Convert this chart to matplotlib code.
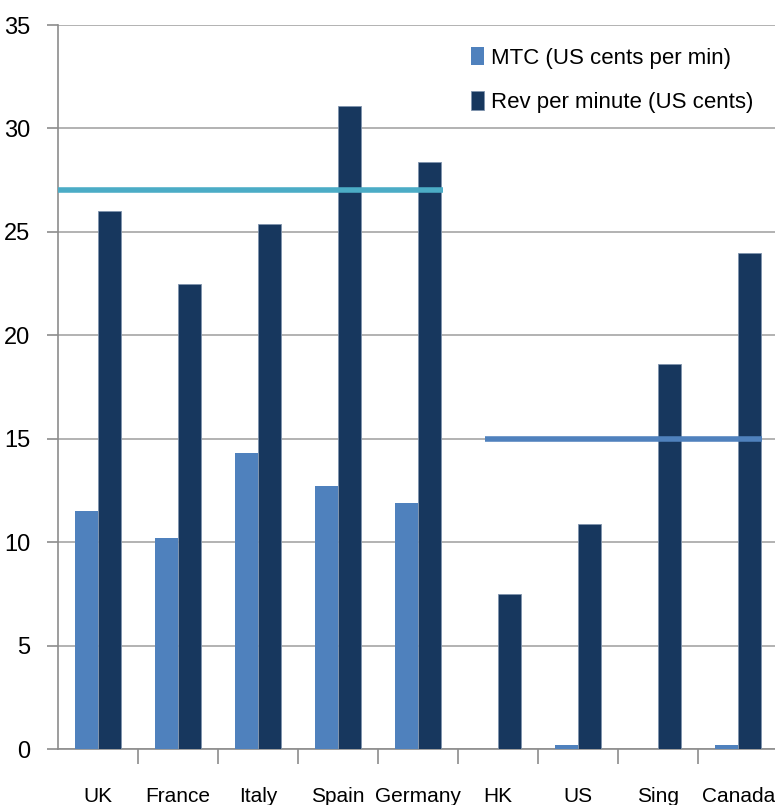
import matplotlib
matplotlib.use("Agg")
import matplotlib.pyplot as plt
import numpy as np

# chart data
countries = ["UK", "France", "Italy", "Spain", "Germany", "HK", "US", "Sing", "Canada"]
mtc = [11.5, 10.2, 14.3, 12.7, 11.9, -0.1, 0.2, 0.0, 0.2]
rev = [26.0, 22.5, 25.4, 31.1, 28.4, 7.5, 10.9, 18.6, 24.0]
europe_avg = 27.0
other_avg = 15.0

plt.rcParams['font.family'] = ['Liberation Sans', 'DejaVu Sans']

fig = plt.figure(figsize=(7.75, 8.05), dpi=100)
ax = fig.add_axes([58/775, 1-749/805, 1-58/775, (749-25)/805])

x = np.arange(len(countries))
w = 0.29
ax.bar(x - w/2, mtc, w, color='#4F81BD', label='MTC (US cents per min)', zorder=3)
ax.bar(x + w/2, rev, w, color='#17375E', edgecolor='#7F93AD', linewidth=0.6,
       label='Rev per minute (US cents)', zorder=3)

# average lines
ax.plot([-0.5, 4.31], [europe_avg, europe_avg], color='#4BACC6', lw=4, zorder=4,
        solid_capstyle='butt')
ax.plot([4.83, 8.3], [other_avg, other_avg], color='#4F81BD', lw=4, zorder=4,
        solid_capstyle='butt')

ax.set_ylim(0, 35)
ax.set_xlim(-0.5, 8.46)
ax.set_yticks(range(0, 36, 5))
ax.yaxis.grid(True, color='#A6A6A6', lw=1.2, zorder=0)
ax.set_axisbelow(True)

ax.set_xticks(x)
ax.set_xticklabels(countries)
ax.set_xticks(np.arange(0.5, 8.5, 1), minor=True)
ax.tick_params(axis='x', which='major', length=0, pad=27, labelsize=15)
ax.tick_params(axis='x', which='minor', length=11, color='#8C8C8C', width=1.2)
ax.tick_params(axis='y', length=8, color='#8C8C8C', width=1.2, pad=12, labelsize=17)

for s in ['top', 'right']:
    ax.spines[s].set_visible(False)
for s in ['left', 'bottom']:
    ax.spines[s].set_color('#8C8C8C')
    ax.spines[s].set_linewidth(1.2)

leg = ax.legend(loc='upper right', bbox_to_anchor=(0.985, 0.985), fontsize=16,
                frameon=True, handlelength=0.6, handleheight=0.9, handletextpad=0.3,
                labelspacing=1.0, borderpad=0.3, borderaxespad=0.2)
leg.get_frame().set_edgecolor('none')
leg.get_frame().set_facecolor('white')
leg.get_frame().set_alpha(1)
leg.set_zorder(5)

fig.savefig("out.png", dpi=100)
